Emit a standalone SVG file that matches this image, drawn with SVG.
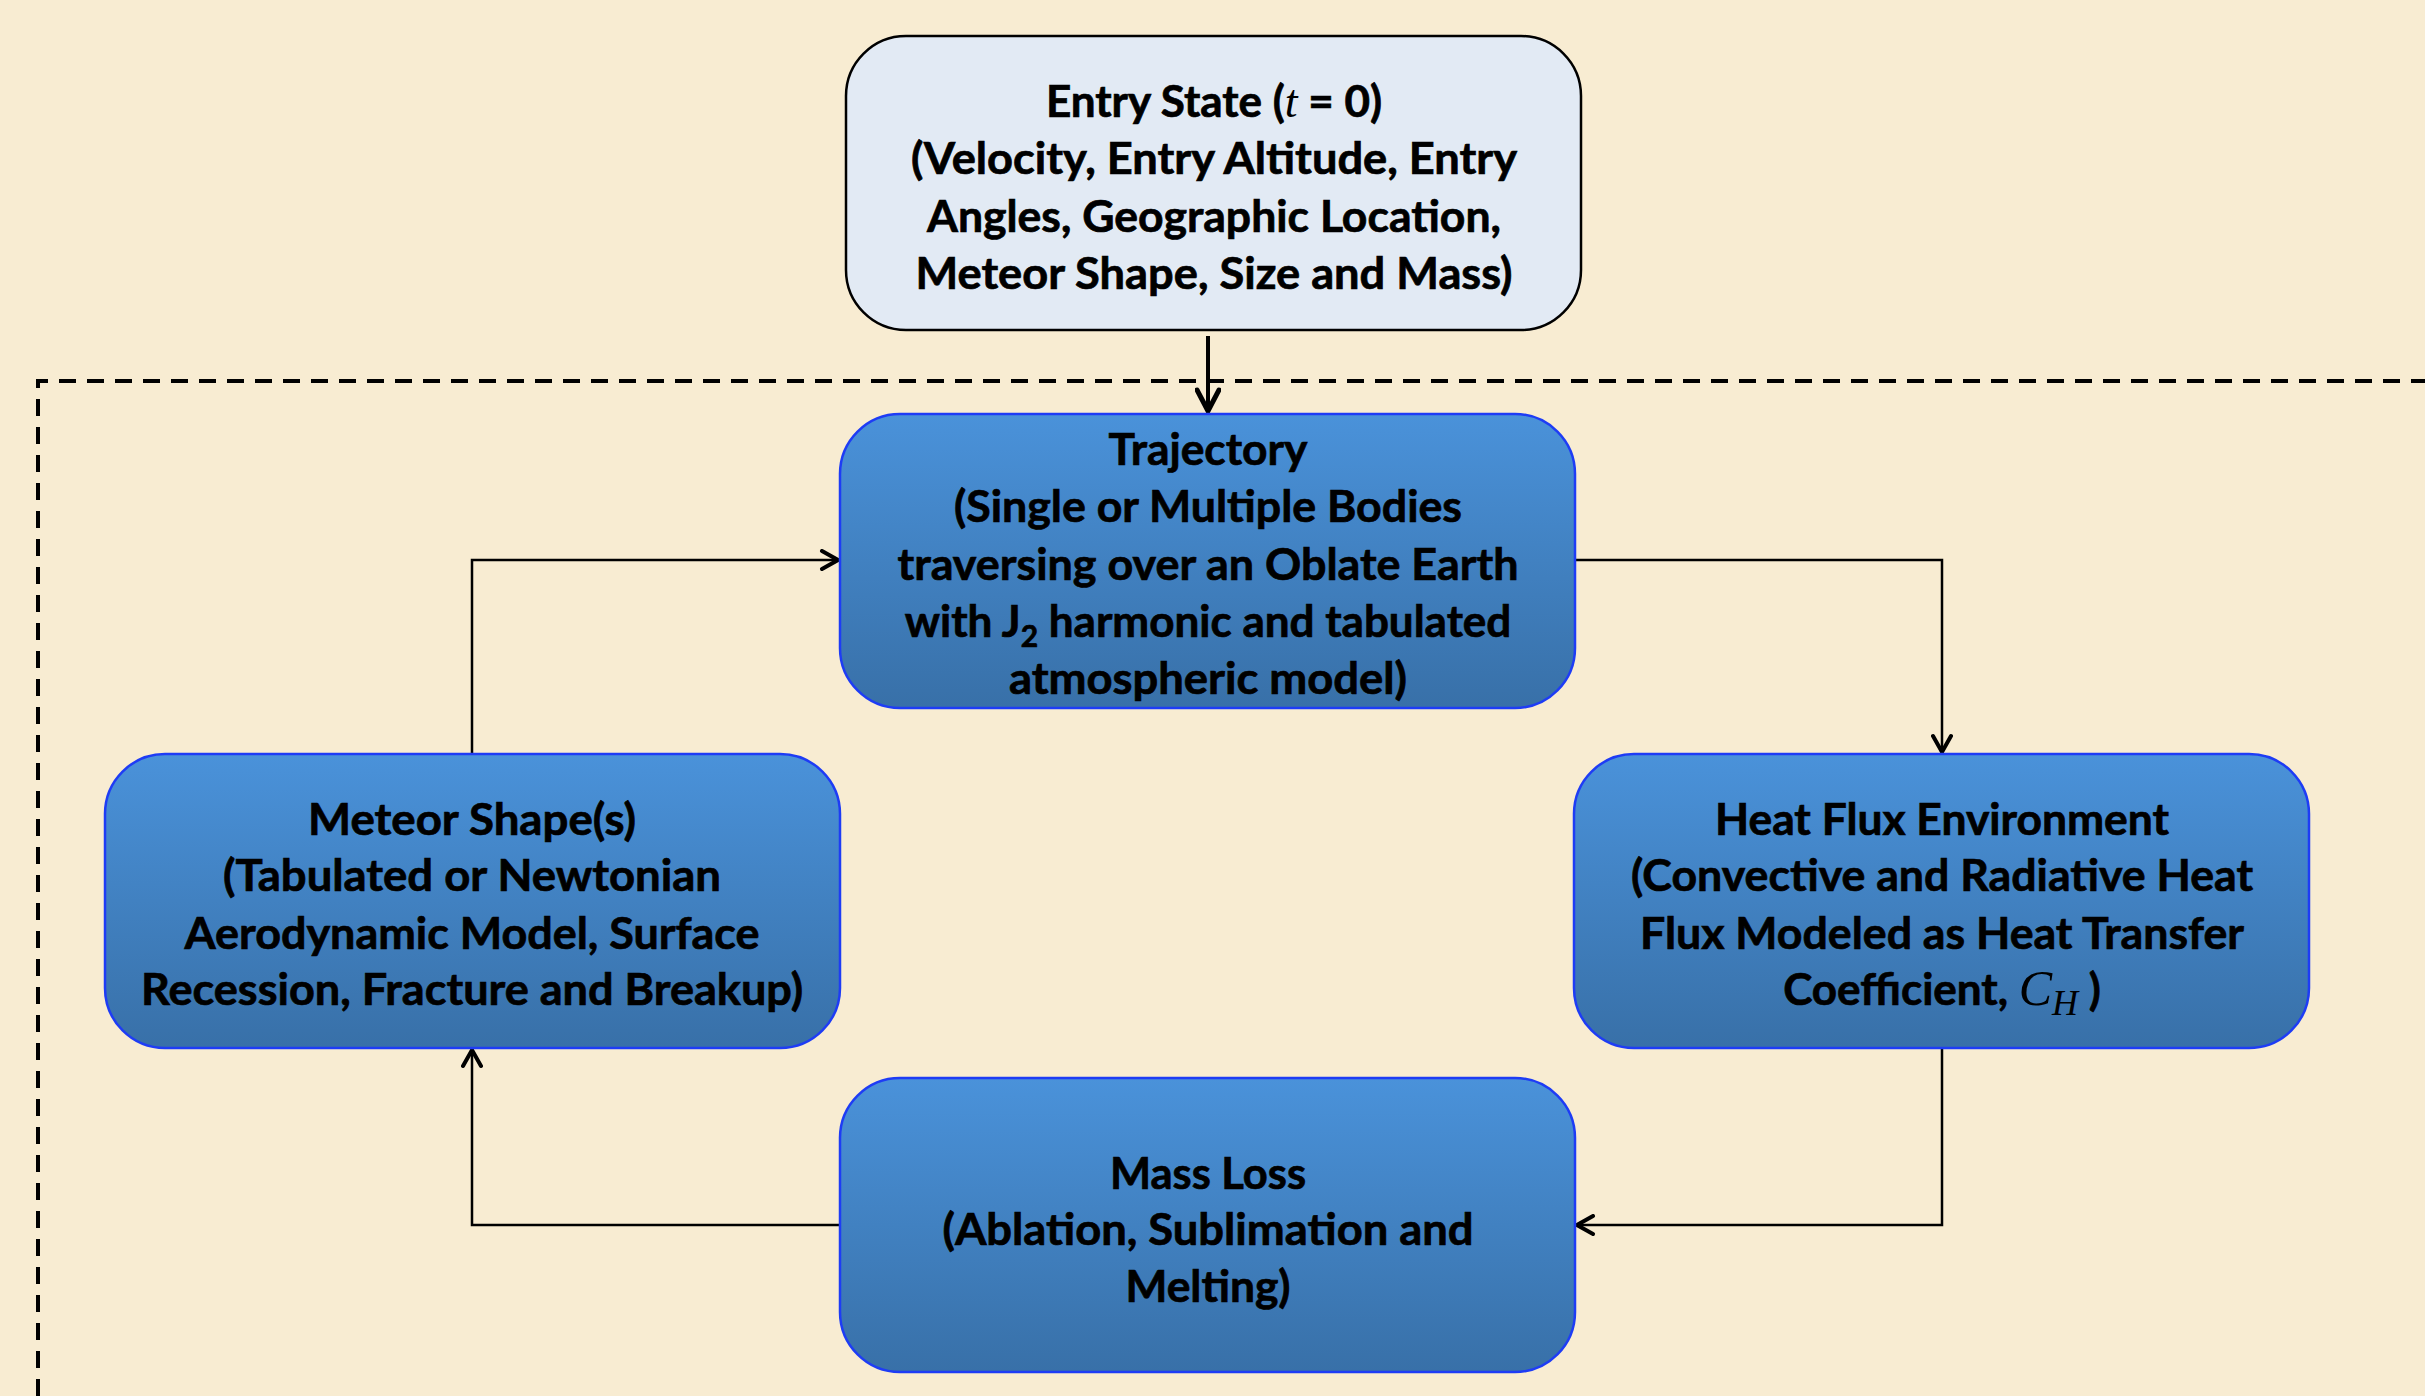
<svg xmlns="http://www.w3.org/2000/svg" width="2425" height="1396" viewBox="0 0 2425 1396">
<defs>
<linearGradient id="blueGrad" x1="0" y1="0" x2="0" y2="1">
<stop offset="0" stop-color="#4A92DA"/>
<stop offset="1" stop-color="#3870A8"/>
</linearGradient>
<marker id="arr" viewBox="0 0 22 22" refX="20" refY="11" markerWidth="22" markerHeight="22" markerUnits="userSpaceOnUse" orient="auto">
<path d="M4,2 L20,11 L4,20" fill="none" stroke="#000" stroke-width="4" stroke-linecap="round" stroke-linejoin="miter"/>
</marker>
<marker id="arrBig" viewBox="0 0 26 26" refX="24" refY="13" markerWidth="26" markerHeight="26" markerUnits="userSpaceOnUse" orient="auto">
<path d="M3,2 L24,13 L3,24" fill="none" stroke="#000" stroke-width="5" stroke-linecap="round"/>
</marker>
</defs>
<style>
.bg { fill: #F8ECD2; }
.node-blue { fill: url(#blueGrad); stroke: #1E3CF5; stroke-width: 2.5; }
.node-light { fill: #E2EAF4; stroke: #000; stroke-width: 2.5; }
text { font-family: Lato, "Open Sans", "Liberation Sans", sans-serif; font-weight: bold; font-size: 44px; fill: #000; stroke: #000; stroke-width: 0.7; text-anchor: middle; }
.it { font-family: "Liberation Serif", "DejaVu Serif", serif; font-style: italic; font-weight: normal; stroke-width: 0; }
.conn { fill: none; stroke: #000; stroke-width: 2.5; }
.dash { fill: none; stroke: #000; stroke-width: 4; stroke-dasharray: 17 11; }
</style>
<rect class="bg" x="0" y="0" width="2425" height="1396"/>

<g id="boundary">
<path class="dash" d="M38,1396 L38,381 L2425,381"/>
</g>

<g id="connectors">
<path d="M1208,336 L1208,411" fill="none" stroke="#000" stroke-width="4" marker-end="url(#arrBig)"/>
<path class="conn" d="M1575,560 L1942,560 L1942,752" marker-end="url(#arr)"/>
<path class="conn" d="M1942,1048 L1942,1225 L1577,1225" marker-end="url(#arr)"/>
<path class="conn" d="M840,1225 L472,1225 L472,1050" marker-end="url(#arr)"/>
<path class="conn" d="M472,754 L472,560 L838,560" marker-end="url(#arr)"/>
</g>

<g id="entry-state">
<rect class="node-light" x="846" y="36" width="735" height="294" rx="60" ry="60"/>
<text x="1214" y="117">Entry State (<tspan class="it" font-size="46">t</tspan> = 0)</text>
<text x="1214" y="174" textLength="606" lengthAdjust="spacingAndGlyphs">(Velocity, Entry Altitude, Entry</text>
<text x="1214" y="232" textLength="574" lengthAdjust="spacingAndGlyphs">Angles, Geographic Location,</text>
<text x="1214" y="289" textLength="597" lengthAdjust="spacingAndGlyphs">Meteor Shape, Size and Mass)</text>
</g>

<g id="trajectory">
<rect class="node-blue" x="840" y="414" width="735" height="294" rx="60" ry="60"/>
<text x="1208" y="465" textLength="199" lengthAdjust="spacingAndGlyphs">Trajectory</text>
<text x="1208" y="522" textLength="508" lengthAdjust="spacingAndGlyphs">(Single or Multiple Bodies</text>
<text x="1208" y="580" textLength="621" lengthAdjust="spacingAndGlyphs">traversing over an Oblate Earth</text>
<text x="1208" y="637" font-size="45">with J<tspan font-size="30" dy="10">2</tspan><tspan dy="-10"> harmonic and tabulated</tspan></text>
<text x="1208" y="694" textLength="398" lengthAdjust="spacingAndGlyphs">atmospheric model)</text>
</g>

<g id="meteor-shape">
<rect class="node-blue" x="105" y="754" width="735" height="294" rx="60" ry="60"/>
<text x="472" y="835" textLength="328" lengthAdjust="spacingAndGlyphs">Meteor Shape(s)</text>
<text x="472" y="891" textLength="498" lengthAdjust="spacingAndGlyphs">(Tabulated or Newtonian</text>
<text x="472" y="949" textLength="575" lengthAdjust="spacingAndGlyphs">Aerodynamic Model, Surface</text>
<text x="472" y="1005" textLength="662" lengthAdjust="spacingAndGlyphs">Recession, Fracture and Breakup)</text>
</g>

<g id="heat-flux">
<rect class="node-blue" x="1574" y="754" width="735" height="294" rx="60" ry="60"/>
<text x="1942" y="835" textLength="454" lengthAdjust="spacingAndGlyphs">Heat Flux Environment</text>
<text x="1942" y="891" textLength="622" lengthAdjust="spacingAndGlyphs">(Convective and Radiative Heat</text>
<text x="1942" y="949" textLength="604" lengthAdjust="spacingAndGlyphs">Flux Modeled as Heat Transfer</text>
<text x="1942" y="1005">Coefficient, <tspan class="it" font-size="50">C</tspan><tspan class="it" font-size="36" dy="10">H</tspan><tspan dy="-10"> )</tspan></text>
</g>

<g id="mass-loss">
<rect class="node-blue" x="840" y="1078" width="735" height="294" rx="60" ry="60"/>
<text x="1208" y="1189" textLength="196" lengthAdjust="spacingAndGlyphs">Mass Loss</text>
<text x="1208" y="1245" textLength="531" lengthAdjust="spacingAndGlyphs">(Ablation, Sublimation and</text>
<text x="1208" y="1302" textLength="165" lengthAdjust="spacingAndGlyphs">Melting)</text>
</g>
</svg>
